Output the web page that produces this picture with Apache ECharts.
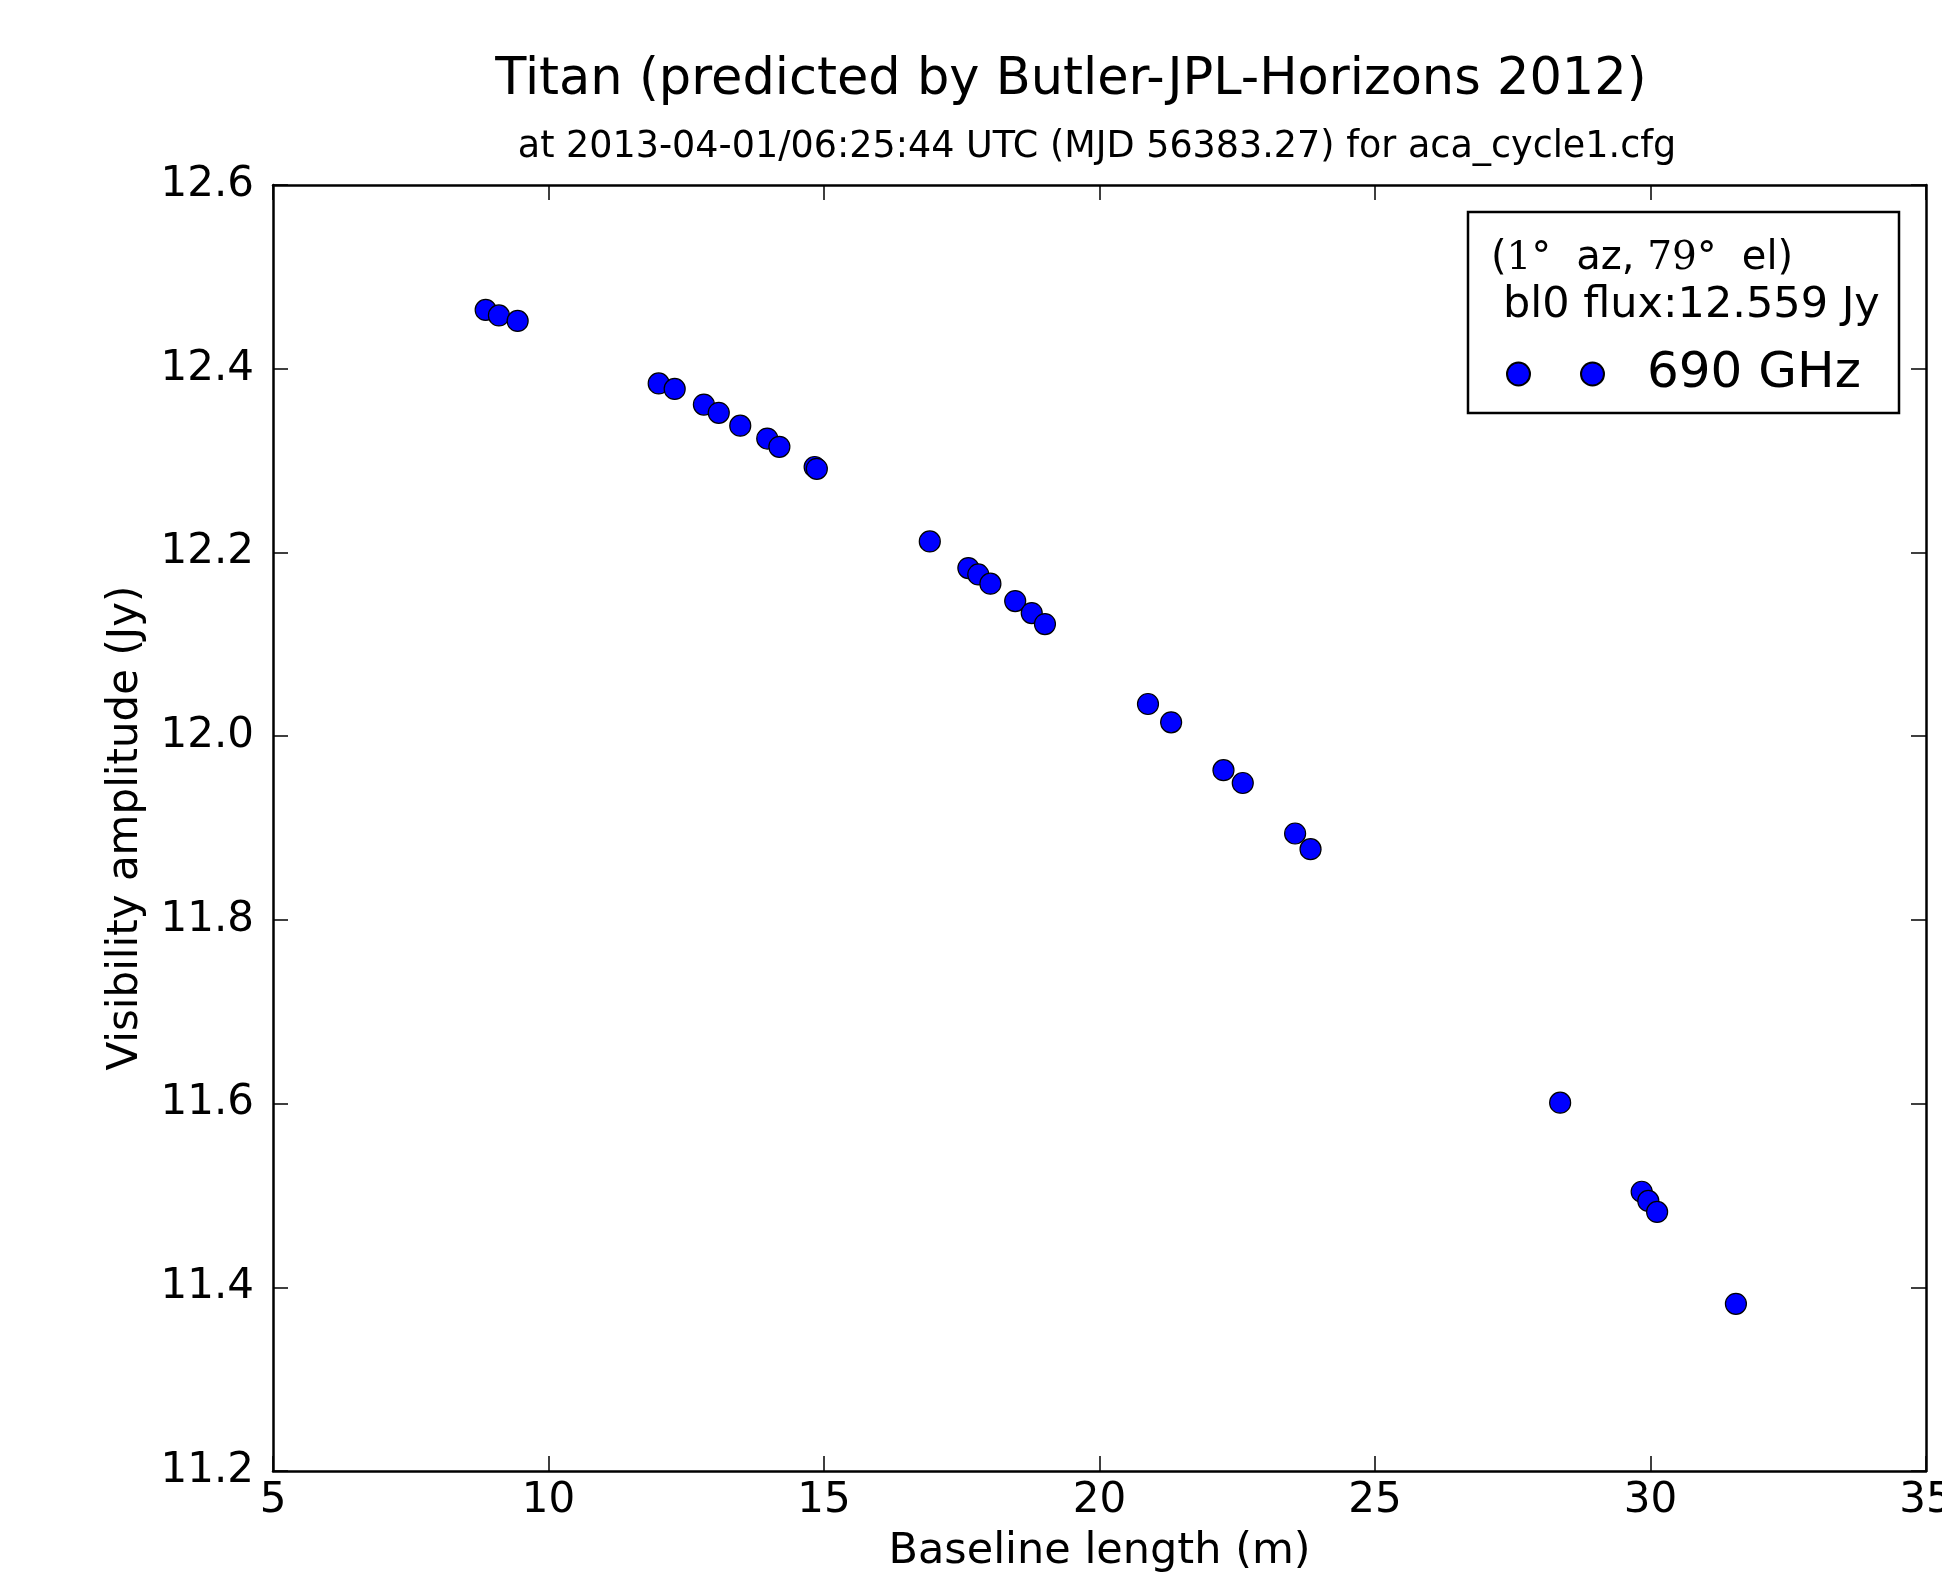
<!DOCTYPE html>
<html>
<head>
<meta charset="utf-8">
<script src="https://cdn.jsdelivr.net/npm/echarts@6/dist/echarts.min.js"></script>
<style>
html,body{margin:0;padding:0;background:#fff;}
#chart{width:1942px;height:1582px;}
</style>
</head>
<body>
<div id="chart"></div>
<script>
// Baseline length (m)
const baseline = [8.86, 9.10, 9.44, 12.00, 12.29, 12.82, 13.09, 13.48, 13.97, 14.19, 14.83, 14.87,
  16.92, 17.62, 17.80, 18.02, 18.47, 18.77, 19.01,
  20.88, 21.30, 22.25, 22.60, 23.55, 23.83,
  28.36, 29.84, 29.96, 30.12, 31.55];
// Visibility amplitude (Jy)
const amplitude = [12.464, 12.458, 12.452, 12.384, 12.378, 12.361, 12.352, 12.338, 12.324, 12.315, 12.293, 12.291,
  12.212, 12.183, 12.176, 12.166, 12.147, 12.134, 12.122,
  12.035, 12.015, 11.963, 11.949, 11.894, 11.877,
  11.601, 11.504, 11.494, 11.482, 11.382];
const xTicks = [5, 10, 15, 20, 25, 30, 35];
const yTicks = [11.2, 11.4, 11.6, 11.8, 12.0, 12.2, 12.4, 12.6];
const seriesName = '690 GHz';
const titleText = 'Titan (predicted by Butler-JPL-Horizons 2012)';
const subText = 'at 2013-04-01/06:25:44 UTC (MJD 56383.27) for aca_cycle1.cfg';
const xName = 'Baseline length (m)';
const yName = 'Visibility amplitude (Jy)';
const legendLine2 = 'bl0 flux:12.559 Jy';

const FONT = 'DejaVu Sans';
const points = baseline.map((b, i) => [b, amplitude[i]]);

const chart = echarts.init(document.getElementById('chart'), null, {renderer: 'canvas'});

const axisLineStyle = {color: '#000', width: 2.5};
const tickStyle = {color: '#000', width: 1.5};

const xBase = {
  type: 'value', min: xTicks[0], max: xTicks[xTicks.length - 1], interval: 5,
  splitLine: {show: false},
  axisLine: {show: true, onZero: false, lineStyle: axisLineStyle},
  axisTick: {show: true, inside: true, length: 15, lineStyle: tickStyle}
};
const yBase = {
  type: 'value', min: yTicks[0], max: yTicks[yTicks.length - 1], interval: 0.2,
  splitLine: {show: false},
  axisLine: {show: true, onZero: false, lineStyle: axisLineStyle},
  axisTick: {show: true, inside: true, length: 15, lineStyle: tickStyle}
};

const option = {
  backgroundColor: '#fff',
  animation: false,
  title: [
    {text: titleText, left: 1071, top: 55, textAlign: 'center', padding: 0,
     textStyle: {fontFamily: FONT, fontSize: 51, fontWeight: 'normal', color: '#000'}},
    {text: subText, left: 1097, top: 129, textAlign: 'center', padding: 0,
     textStyle: {fontFamily: FONT, fontSize: 36.5, fontWeight: 'normal', color: '#000'}}
  ],
  grid: {left: 273, top: 185, right: 16, bottom: 111, containLabel: false, outerBoundsMode: 'none'},
  xAxis: [
    Object.assign({}, xBase, {
      position: 'bottom', name: xName, nameLocation: 'middle', nameGap: 59,
      nameTextStyle: {fontFamily: FONT, fontSize: 43, color: '#000'},
      axisLabel: {show: true, margin: 9, fontFamily: FONT, fontSize: 42, color: '#000',
        hideOverlap: false, formatter: v => String(v)}
    }),
    Object.assign({}, xBase, {position: 'top', axisLabel: {show: false}})
  ],
  yAxis: [
    Object.assign({}, yBase, {
      position: 'left', name: yName, nameLocation: 'middle', nameGap: 126, nameRotate: 90,
      nameTextStyle: {fontFamily: FONT, fontSize: 42, color: '#000'},
      axisLabel: {show: true, margin: 19, fontFamily: FONT, fontSize: 42, color: '#000',
        formatter: v => v.toFixed(1)}
    }),
    Object.assign({}, yBase, {position: 'right', axisLabel: {show: false}})
  ],
  legend: {
    show: true, left: 1506, top: 349, padding: 0, z: 20,
    itemWidth: 97, itemHeight: 23,
    icon: 'path://M0,11.5A11.5,11.5,0,1,1,23,11.5A11.5,11.5,0,1,1,0,11.5ZM74,11.5A11.5,11.5,0,1,1,97,11.5A11.5,11.5,0,1,1,74,11.5Z',
    textStyle: {fontFamily: FONT, fontSize: 50, color: '#000', padding: [0, 0, 0, 38]},
    data: [seriesName],
    selectedMode: false
  },
  graphic: [
    {type: 'rect', shape: {x: 1468, y: 212, width: 431, height: 201},
     style: {fill: '#fff', stroke: '#000', lineWidth: 2.5}, z: 3},
    {type: 'text', x: 1491, y: 259, z: 6,
     style: {text: '({s|1°}  az, {s|79°}  el)', fontFamily: FONT, fontSize: 40, fill: '#000',
       verticalAlign: 'middle', align: 'left',
       rich: {s: {fontFamily: 'DejaVu Serif', fontSize: 39, fill: '#000'}}}},
    {type: 'text', x: 1503, y: 306, z: 6,
     style: {text: legendLine2, fontFamily: FONT, fontSize: 43, fill: '#000',
       verticalAlign: 'middle', align: 'left'}}
  ],
  series: [{
    name: seriesName, type: 'scatter', xAxisIndex: 0, yAxisIndex: 0,
    data: points, symbol: 'circle', symbolSize: 21,
    itemStyle: {color: '#0000ff', borderColor: '#000', borderWidth: 1.2, opacity: 1},
    emphasis: {disabled: true}
  }]
};
chart.setOption(option);
</script>
</body>
</html>
